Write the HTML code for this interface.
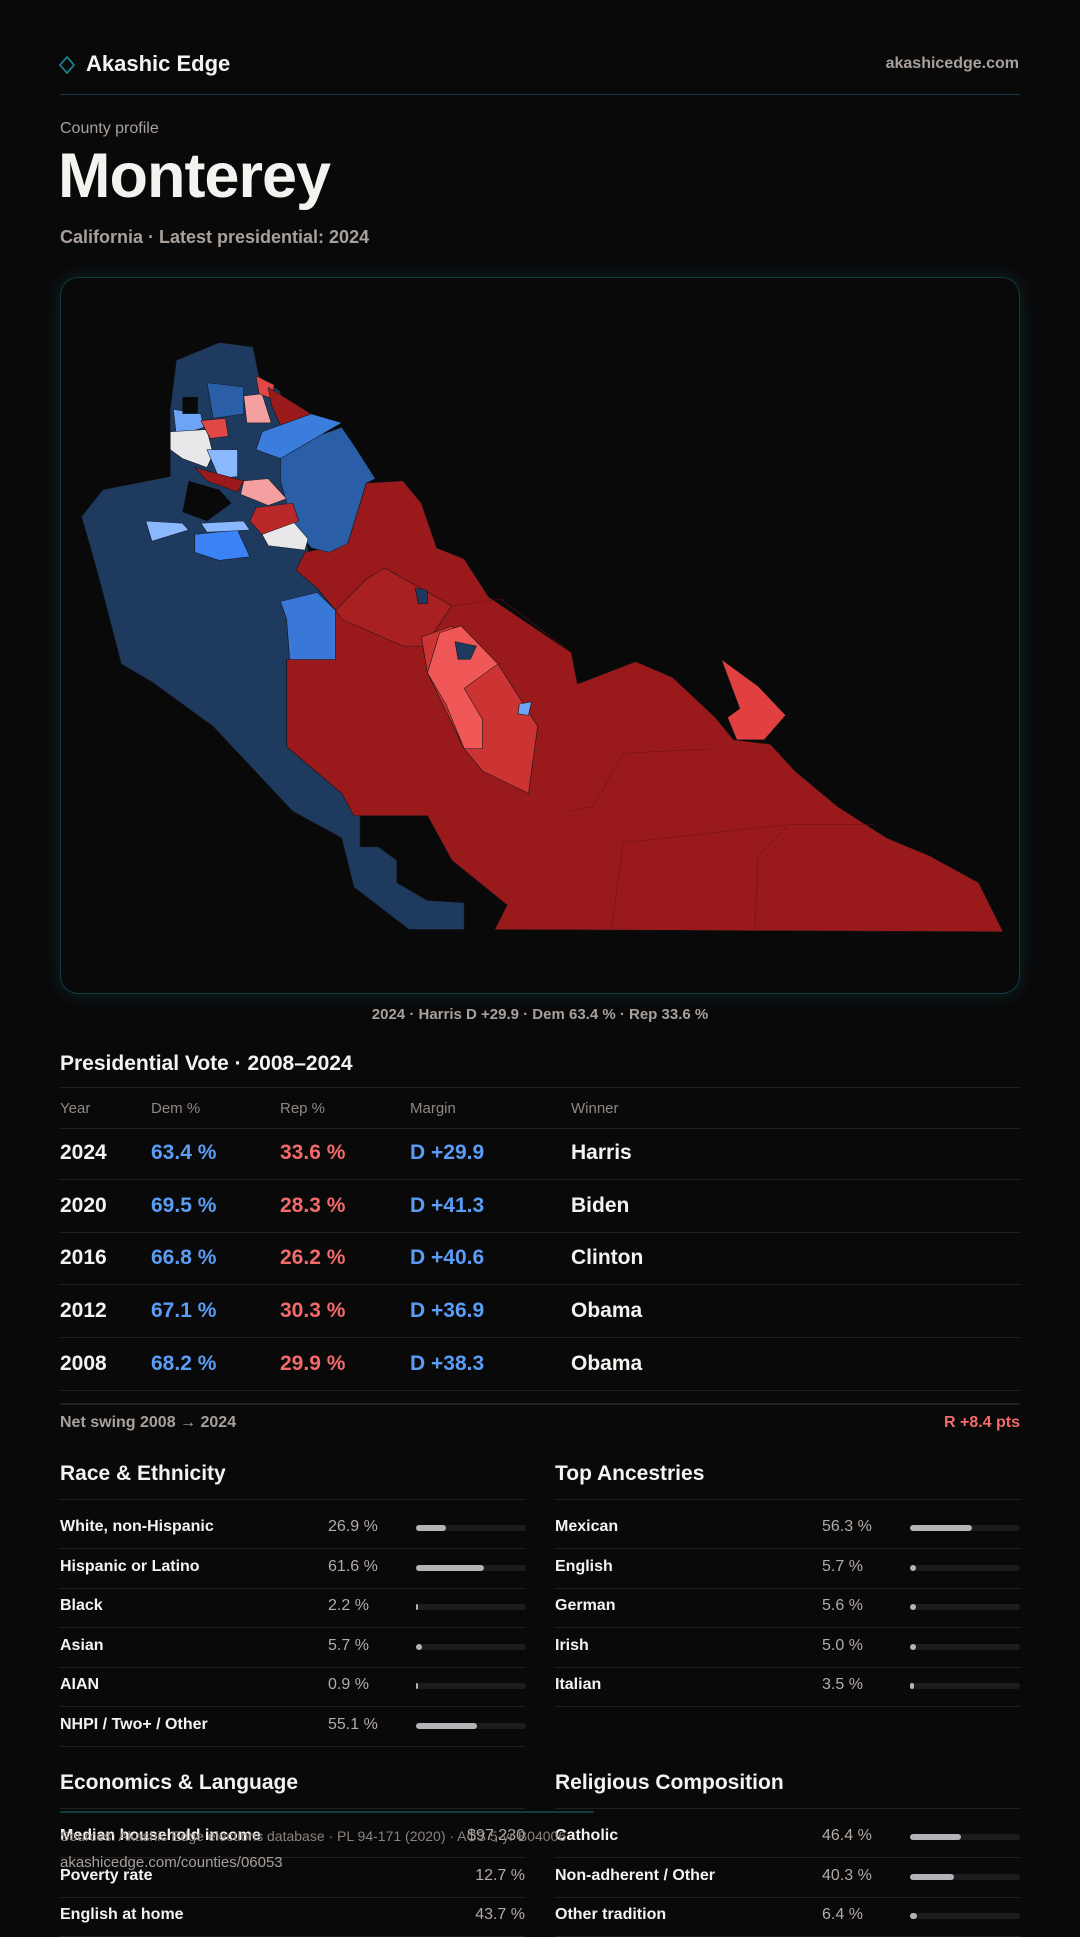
<!DOCTYPE html>
<html><head><meta charset="utf-8">
<style>
*{margin:0;padding:0;box-sizing:border-box}
body{width:1080px;height:1920px;background:#0a090a;color:#f5f3f0;font-family:"Liberation Sans",sans-serif;position:relative;overflow:hidden}
.abs{position:absolute}
.muted{color:#a8a09a}
.hline{position:absolute;height:1px;background:#1f1f22}
.card{position:absolute;left:60px;top:277px;width:960px;height:717px;border:1px solid #0f3b42;border-radius:18px;box-shadow:0 0 18px rgba(20,120,130,.25)}
.th{position:absolute;top:1100px;font-size:15px;color:#8f8882}
.row{position:absolute;left:0;width:1080px;font-size:21px;font-weight:bold}
.row span{position:absolute}
.blue{color:#5b9df5}.red{color:#f26a6a}
.st{position:absolute;font-size:21px;font-weight:bold;color:#f5f3f0}
.lab{position:absolute;font-size:16px;font-weight:bold}
.val{position:absolute;font-size:16px;color:#b3aba5}
.track{position:absolute;height:6px;background:#1c1c1e;border-radius:3px;width:110px}
.fill{height:6px;background:#b4b4b8;border-radius:3px}
</style></head><body>
<svg class="abs" style="left:58px;top:55px" width="18" height="20"><polygon points="9,2 16,10 9,18 2,10" fill="none" stroke="#1a8a96" stroke-width="1.6"/></svg>
<div class="abs" style="left:86px;top:51px;font-size:22px;font-weight:bold">Akashic Edge</div>
<div class="abs muted" style="right:61px;top:55px;font-size:16px;font-weight:bold">akashicedge.com</div>
<div class="abs" style="left:60px;top:94px;width:960px;height:1px;background:#123a42"></div>
<div class="abs muted" style="left:60px;top:120px;font-size:16px">County profile</div>
<div class="abs" style="left:58px;top:140px;font-size:63px;font-weight:bold;letter-spacing:-1px">Monterey</div>
<div class="abs muted" style="left:60px;top:227px;font-size:18px;font-weight:bold">California · Latest presidential: 2024</div>

<div class="card"></div>
<svg class="abs" style="left:0;top:0" width="1080" height="1000">
<g transform="translate(60,280) scale(0.6124,0.4464)" stroke="#121418" stroke-width="1">
<polygon fill="#1e3a5f" points="190,180 260,140 315,150 325,215 360,250 380,450 420,690 450,740 450,850 370,850 370,1045 460,1150 490,1200 490,1270 520,1270 550,1300 550,1350 600,1390 660,1395 660,1455 570,1455 480,1360 460,1250 380,1190 250,1000 150,900 100,860 70,700 50,600 35,530 70,470 180,440 180,290"/>
<polygon fill="#9a1a1c" points="385,650 400,610 470,590 500,455 560,450 590,500 615,600 660,625 700,710 835,835 845,905 940,855 1000,890 1070,980 1100,1030 1160,1040 1200,1100 1270,1180 1350,1250 1420,1290 1500,1350 1540,1460 710,1455 730,1400 640,1300 600,1200 480,1200 460,1150 370,1045 370,850 450,850 450,740 420,690"/>
<polygon fill="#a82020" points="450,740 500,670 530,645 640,730 595,820 560,820 460,760"/>
<polygon fill="#2a5fa8" points="360,380 460,330 480,370 515,445 500,455 470,590 440,610 410,600 380,550 360,450"/>
<polygon fill="#3b7ddd" points="330,340 410,300 460,320 360,400 320,380"/>
<polygon fill="#3a78d8" points="360,720 420,700 450,740 450,850 375,850 370,760"/>
<polygon fill="#3b82f6" points="220,570 290,560 310,620 260,628 220,610"/>
<polygon fill="#2a5fa8" points="240,230 300,240 300,300 250,310"/>
<polygon fill="#6ea4f5" points="185,290 230,300 235,330 190,350"/>
<polygon fill="#e8e8ea" points="180,340 240,335 250,390 240,420 200,400 180,380"/>
<polygon fill="#e8e8ea" points="330,570 380,540 405,580 400,605 340,595"/>
<polygon fill="#8ab8ff" points="140,540 200,545 210,560 150,585"/>
<polygon fill="#8ab8ff" points="240,380 290,380 290,440 260,445"/>
<polygon fill="#8ab8ff" points="230,545 300,540 310,560 240,565"/>
<polygon fill="#f4a0a0" points="300,450 340,445 370,490 340,505 295,480"/>
<polygon fill="#f4a0a0" points="300,260 330,255 345,320 305,320"/>
<polygon fill="#e04848" points="230,315 270,310 275,350 245,355"/>
<polygon fill="#e04848" points="320,215 350,235 345,265 325,255"/>
<polygon fill="#9a1a1c" points="340,240 410,300 360,325 345,280"/>
<polygon fill="#9a1a1c" points="220,420 300,450 290,475 240,450"/>
<polygon fill="#b82828" points="320,510 380,500 390,540 330,570 310,540"/>
<polygon fill="#0a090a" stroke="none" points="200,262 225,262 225,300 200,300"/>
<polygon fill="#0a090a" stroke="none" points="210,450 260,470 280,500 240,540 200,520"/>
<polygon fill="#cc3333" points="590,800 640,775 715,860 780,1000 765,1150 690,1100 660,1050 600,880"/>
<polygon fill="#f05858" points="600,880 620,790 655,775 715,860 660,915 690,985 690,1050 660,1050 630,950"/>
<polygon fill="#e04040" points="1080,850 1140,910 1185,975 1150,1030 1105,1030 1090,980 1110,960"/>
<polygon fill="#1e3a5f" points="645,810 680,820 670,850 650,850"/>
<polygon fill="#1e3a5f" points="580,690 600,695 600,725 585,725"/>
<polygon fill="#6ea4f5" points="750,950 770,945 765,975 748,972"/>
<polyline fill="none" stroke="#6e1214" points="640,730 720,715 835,835"/>
<polyline fill="none" stroke="#6e1214" points="830,1190 870,1180 920,1060 1070,1050"/>
<polyline fill="none" stroke="#6e1214" points="900,1455 920,1260 1190,1220 1330,1220"/>
<polyline fill="none" stroke="#6e1214" points="1135,1455 1140,1290 1190,1220"/>
</g></svg>
<div class="abs muted" style="left:0;width:1080px;top:1006px;text-align:center;font-size:15px;font-weight:bold">2024 · Harris D +29.9 · Dem 63.4 % · Rep 33.6 %</div>

<div class="st" style="left:60px;top:1052px">Presidential Vote · 2008–2024</div>
<div class="hline" style="left:60px;width:960px;top:1087px"></div>
<div class="th" style="left:60px">Year</div>
<div class="th" style="left:151px">Dem %</div>
<div class="th" style="left:280px">Rep %</div>
<div class="th" style="left:410px">Margin</div>
<div class="th" style="left:571px">Winner</div>
<div class="hline" style="left:60px;width:960px;top:1128px"></div>
<div id="rows"></div>
<div class="abs" style="left:60px;width:960px;top:1403px;height:2px;background:#222225"></div>
<div class="abs muted" style="left:60px;top:1414px;font-size:16px;font-weight:bold">Net swing 2008 → 2024</div>
<div class="abs red" style="right:60px;top:1414px;font-size:16px;font-weight:bold">R +8.4 pts</div>

<div class="st" style="left:60px;top:1462px">Race &amp; Ethnicity</div>
<div class="st" style="left:555px;top:1462px">Top Ancestries</div>
<div class="st" style="left:60px;top:1771px">Economics &amp; Language</div>
<div class="st" style="left:555px;top:1771px">Religious Composition</div>
<div id="lists"></div>
<div class="abs" style="left:60px;width:534px;top:1811px;height:2px;background:#0f3b42"></div>
<div class="abs" style="left:60px;top:1828px;font-size:14px;color:#8a837e">Sources: Akashic Edge elections database · PL 94-171 (2020) · ACS 5-yr B04006</div>
<div class="abs" style="left:60px;top:1854px;font-size:15px;color:#a8a09a">akashicedge.com/counties/06053</div>
<script>
const years=["2024","2020","2016","2012","2008"];
const demPct=[63.4,69.5,66.8,67.1,68.2];
const repPct=[33.6,28.3,26.2,30.3,29.9];
const margins=[29.9,41.3,40.6,36.9,38.3];
const winners=["Harris","Biden","Clinton","Obama","Obama"];
const raceLabels=["White, non-Hispanic","Hispanic or Latino","Black","Asian","AIAN","NHPI / Two+ / Other"];
const raceValues=[26.9,61.6,2.2,5.7,0.9,55.1];
const ancLabels=["Mexican","English","German","Irish","Italian"];
const ancValues=[56.3,5.7,5.6,5.0,3.5];
const econLabels=["Median household income","Poverty rate","English at home"];
const econValues=["$97,230","12.7 %","43.7 %"];
const relLabels=["Catholic","Non-adherent / Other","Other tradition"];
const relValues=[46.4,40.3,6.4];

const rowsEl=document.getElementById('rows');
years.forEach((y,i)=>{
  const top=1141+i*52.7;
  const r=document.createElement('div');
  r.className='row';r.style.top=top+'px';
  
  
  r.innerHTML=`<span style="left:60px">${y}</span><span class="blue" style="left:151px">${demPct[i].toFixed(1)} %</span><span class="red" style="left:280px">${repPct[i].toFixed(1)} %</span><span class="blue" style="left:410px">D +${margins[i].toFixed(1)}</span><span style="left:571px">${winners[i]}</span>`;
  rowsEl.appendChild(r);
  const l=document.createElement('div');
  l.className='hline';l.style.left='60px';l.style.width='960px';l.style.top=(top+38)+'px';
  
  
  rowsEl.appendChild(l);
});
const lists=document.getElementById('lists');
function list(x,valX,barX,top0,labels,values,isBar,prefix){
  const w=465;
  const hl=document.createElement('div');hl.className='hline';hl.style.left=x+'px';hl.style.width=w+'px';hl.style.top=(top0-28)+'px';
  
  
  lists.appendChild(hl);
  labels.forEach((lab,i)=>{
    const top=top0+i*39.6;
    const a=document.createElement('div');a.className='lab';a.style.left=x+'px';a.style.top=(top-9)+'px';a.textContent=lab;
    
    
    lists.appendChild(a);
    const v=document.createElement('div');v.className='val';v.style.top=(top-9)+'px';
    
    
    if(isBar){
      v.style.left=valX+'px';v.textContent=values[i].toFixed(1)+' %';
      const t=document.createElement('div');t.className='track';t.style.left=barX+'px';t.style.top=(top-2)+'px';
      
      
      const f=document.createElement('div');f.className='fill';f.style.width=Math.max(2,values[i]/100*110)+'px';
      t.appendChild(f);lists.appendChild(t);
    }else{v.style.right=(1080-x-w)+'px';v.textContent=values[i];}
    lists.appendChild(v);
    const l=document.createElement('div');l.className='hline';l.style.left=x+'px';l.style.width=w+'px';l.style.top=(top+21)+'px';
    
    
    lists.appendChild(l);
  });
}
list(60,328,416,1527,raceLabels,raceValues,true,'race');
list(555,822,910,1527,ancLabels,ancValues,true,'ancestry');
list(60,0,0,1836,econLabels,econValues,false,'econ');
list(555,822,910,1836,relLabels,relValues,true,'religion');
</script>
</body></html>
